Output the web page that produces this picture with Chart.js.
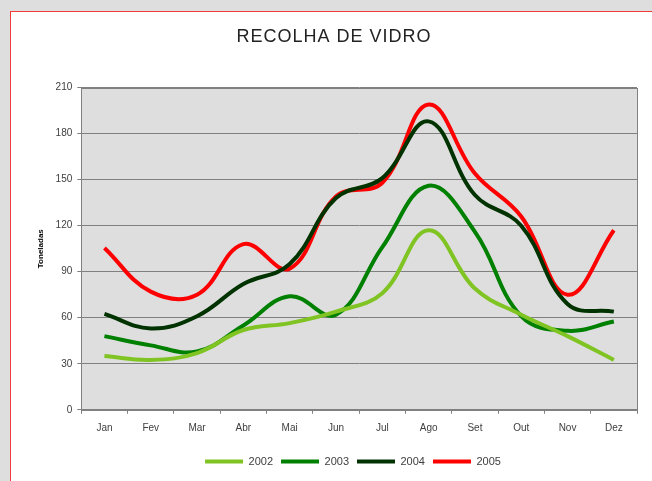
<!DOCTYPE html>
<html>
<head>
<meta charset="utf-8">
<script src="https://cdn.jsdelivr.net/npm/chart.js@4.4.0/dist/chart.umd.min.js"></script>
<style>
  html, body { margin: 0; padding: 0; background: #dedede; }
  #panel { position: absolute; left: 10px; top: 11px; width: 642px; height: 470px; background: #fff;
           border-left: 1px solid #f03c3c; border-top: 1px solid #f03c3c; }
  canvas { display: block; }
</style>
</head>
<body>
<div id="panel"><canvas id="chart" width="641" height="469"></canvas></div>
<script>
// meses e toneladas recolhidas por ano
const months = ['Jan', 'Fev', 'Mar', 'Abr', 'Mai', 'Jun', 'Jul', 'Ago', 'Set', 'Out', 'Nov', 'Dez'];
const years = ['2002', '2003', '2004', '2005'];
const values2002 = [35, 32.5, 37, 52, 56.5, 64, 76, 117, 79, 62, 48, 32.5];
const values2003 = [48, 42, 38, 55, 74, 62, 106, 146, 116, 61, 51.5, 57.5];
const values2004 = [62.5, 53, 61, 82, 95, 138, 151, 188, 140, 120, 69, 64];
const values2005 = [105.5, 77, 75, 108, 92, 139, 148, 199, 154, 126, 75, 117];
const yTicks = [0, 30, 60, 90, 120, 150, 180, 210];

const colors = ['#80c423', '#008000', '#003300', '#ff0000'];
const series = [values2002, values2003, values2004, values2005];

Chart.defaults.font.family = '"Liberation Sans", Arial, sans-serif';
Chart.defaults.font.size = 10;
Chart.defaults.color = '#404040';

// fundo cinzento e moldura da area do grafico
const plotFrame = {
  id: 'plotFrame',
  afterInit(chart) {
    // titulo com letras espacadas
    const t = chart.titleBlock;
    if (t) {
      const draw = t.draw.bind(t);
      t.draw = function () {
        chart.ctx.save();
        chart.ctx.letterSpacing = '1px';
        draw();
        chart.ctx.restore();
      };
    }
  },
  afterLayout(chart) {
    // titulo e legenda centrados como no original
    chart.titleBlock.left += 7;
    chart.titleBlock.right += 7;
    chart.legend.left += 26;
    chart.legend.right += 26;
  },
  beforeDraw(chart) {
    const { ctx, chartArea: a } = chart;
    ctx.save();
    ctx.fillStyle = '#dedede';
    ctx.fillRect(a.left, a.top, a.width, a.height);
    ctx.restore();
  },
  beforeDatasetsDraw(chart) {
    const { ctx, chartArea: a } = chart;
    ctx.save();
    ctx.strokeStyle = '#808080';
    ctx.lineWidth = 1;
    ctx.strokeRect(Math.round(a.left) + 0.5, Math.round(a.top) + 0.5, Math.round(a.width), Math.round(a.height));
    ctx.restore();
  }
};

const ctx = document.getElementById('chart').getContext('2d');
new Chart(ctx, {
  type: 'line',
  data: {
    labels: months,
    datasets: years.map((y, i) => ({
      label: y,
      data: series[i],
      borderColor: colors[i],
      backgroundColor: colors[i],
      borderWidth: 4,
      pointRadius: 0,
      tension: 0.4,
      fill: false
    }))
  },
  options: {
    responsive: false,
    animation: false,
    layout: { padding: { left: 6, right: 15, top: 0, bottom: 4 } },
    plugins: {
      title: {
        display: true,
        text: 'RECOLHA DE VIDRO',
        color: '#222',
        font: { size: 18, weight: 'normal' },
        padding: { top: 14, bottom: 40 }
      },
      legend: {
        position: 'bottom',
        labels: {
          boxWidth: 38,
          boxHeight: 4,
          padding: 8,
          color: '#404040',
          font: { size: 11 },
          generateLabels(chart) {
            return Chart.defaults.plugins.legend.labels.generateLabels(chart).map(l => {
              l.lineWidth = 0;
              l.fillStyle = colors[l.datasetIndex];
              return l;
            });
          }
        }
      },
      tooltip: { enabled: false }
    },
    scales: {
      x: {
        offset: true,
        grid: { drawOnChartArea: false, drawTicks: true, tickLength: 4, color: '#808080', offset: true },
        border: { color: '#808080' },
        ticks: { padding: 8, color: '#404040' },
        title: { display: true, text: '', font: { size: 1 }, padding: { top: 5, bottom: 0 } }
      },
      y: {
        min: 0,
        max: 210,
        afterBuildTicks(scale) { scale.ticks = yTicks.map(v => ({ value: v })); },
        grid: { color: '#808080', drawTicks: true, tickLength: 4 },
        border: { color: '#808080' },
        ticks: { padding: 5, color: '#404040' },
        title: {
          display: true,
          text: 'Toneladas',
          color: '#000',
          font: { size: 8, weight: 'bold' },
          padding: { top: 19, bottom: 5 }
        }
      }
    }
  },
  plugins: [plotFrame]
});
</script>
</body>
</html>
